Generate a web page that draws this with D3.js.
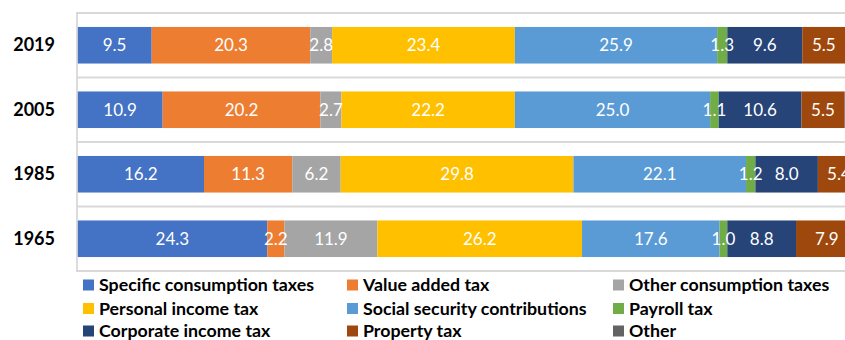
<!DOCTYPE html>
<html><head><meta charset="utf-8">
<script src="https://cdn.jsdelivr.net/npm/d3@7"></script>
<style>html,body{margin:0;padding:0;background:#fff;overflow:hidden}</style>
</head><body>
<svg id="chart" width="845" height="340"></svg>
<script>
const years = ["2019", "2005", "1985", "1965"];
const seriesNames = ["Specific consumption taxes", "Value added tax", "Other consumption taxes",
  "Personal income tax", "Social security contributions", "Payroll tax",
  "Corporate income tax", "Property tax", "Other"];
const specificConsumption = [9.5, 10.9, 16.2, 24.3];
const valueAdded = [20.3, 20.2, 11.3, 2.2];
const otherConsumption = [2.8, 2.7, 6.2, 11.9];
const personalIncome = [23.4, 22.2, 29.8, 26.2];
const socialSecurity = [25.9, 25.0, 22.1, 17.6];
const payroll = [1.3, 1.1, 1.2, 1.0];
const corporateIncome = [9.6, 10.6, 8.0, 8.8];
const property = [5.5, 5.5, 5.4, 7.9];
const other = [1.7, 1.8, 0.0, 0.1];
const colors = ["#4472C4", "#ED7D31", "#A5A5A5", "#FFC000", "#5B9BD5", "#70AD47", "#264478", "#9E480E", "#636363"];

const seriesValues = [specificConsumption, valueAdded, otherConsumption, personalIncome,
  socialSecurity, payroll, corporateIncome, property, other];
const rows = years.map((y, i) => {
  const r = {year: y};
  seriesNames.forEach((s, k) => r[s] = seriesValues[k][i]);
  return r;
});

const svg = d3.select("#chart");
const x = d3.scaleLinear().domain([0, 100]).range([77.5, 858.5]);
const y = d3.scaleBand().domain(years).range([13, 271]).paddingInner(0.433).paddingOuter(0.2165);
const band = d3.scaleBand().domain(years).range([13, 271]);

// gridlines (category separators)
const sep = [13, ...years.map(yy => band(yy) + band.bandwidth())];
svg.append("g").selectAll("line").data(sep).join("line")
  .attr("x1", 77).attr("x2", 845).attr("y1", d => d).attr("y2", d => d)
  .attr("stroke", "#D9D9D9").attr("stroke-width", 2);

const stack = d3.stack().keys(seriesNames)(rows);
const g = svg.append("g");
stack.forEach((layer, k) => {
  g.append("g").attr("fill", colors[k]).selectAll("rect").data(layer).join("rect")
    .attr("x", d => x(d[0])).attr("width", d => x(d[1]) - x(d[0]))
    .attr("y", d => y(d.data.year)).attr("height", y.bandwidth());
});
// labels
stack.forEach((layer, k) => {
  if (seriesNames[k] === "Other") return;
  g.append("g").selectAll("text").data(layer).join("text")
    .attr("x", d => (x(d[0]) + x(d[1])) / 2)
    .attr("y", d => y(d.data.year) + y.bandwidth() / 2)
    .attr("dy", "0.36em").attr("text-anchor", "middle")
    .attr("fill", "#fff").attr("font-family", "Lato").attr("font-size", 17)
    .text(d => d3.format(".1f")(d[1] - d[0]));
});

// y axis line
svg.append("line").attr("x1", 77).attr("x2", 77).attr("y1", 12).attr("y2", 272)
  .attr("stroke", "#D0D0D0").attr("stroke-width", 1.5);
const yAxis = d3.axisLeft(band).tickSize(0).tickPadding(0);
const ya = svg.append("g").attr("transform", "translate(55,0)").call(yAxis);
ya.select(".domain").remove();
ya.selectAll("text").attr("font-family", "Lato").attr("font-weight", "bold")
  .attr("font-size", 18).attr("fill", "#000");

// legend
const legX = [83, 347, 613];
const legY = [285, 308.5, 331];
const leg = svg.append("g").selectAll("g").data(seriesNames).join("g")
  .attr("transform", (d, i) => `translate(${legX[i % 3]},${legY[Math.floor(i / 3)]})`);
leg.append("rect").attr("x", 0).attr("y", -5.5).attr("width", 11).attr("height", 11)
  .attr("fill", (d, i) => colors[i]);
leg.append("text").attr("x", 16).attr("dy", "0.36em")
  .attr("font-family", "Lato").attr("font-weight", "bold").attr("font-size", 17.8)
  .attr("fill", "#000").text(d => d);
</script>
</body></html>
